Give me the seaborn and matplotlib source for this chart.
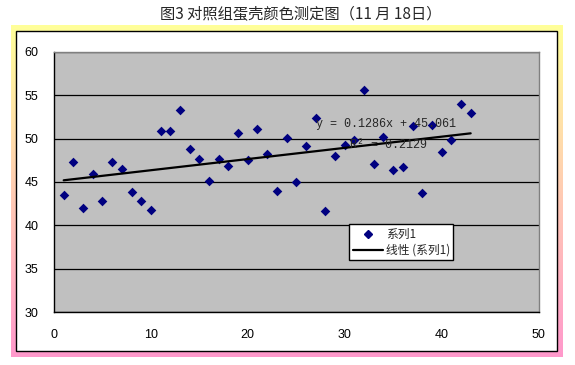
import numpy as np
import pandas as pd
import matplotlib
matplotlib.use("Agg")
import matplotlib.pyplot as plt
from matplotlib.patches import Rectangle
from matplotlib.lines import Line2D
import seaborn as sns

# data
egg_no = list(range(1, 44))
shell_color = [43.5, 47.3, 42.0, 45.9, 42.8, 47.3, 46.5, 43.9, 42.8, 41.8,
               50.9, 50.9, 53.3, 48.8, 47.7, 45.1, 47.7, 46.8, 50.6, 47.5,
               51.1, 48.2, 44.0, 50.1, 45.0, 49.1, 52.4, 41.7, 48.0, 49.3,
               49.8, 55.6, 47.1, 50.2, 46.4, 46.7, 51.4, 43.7, 51.6, 48.4,
               49.8, 54.0, 53.0]
x_ticks = [0, 10, 20, 30, 40, 50]
y_ticks = [30, 35, 40, 45, 50, 55, 60]
title = "图3 对照组蛋壳颜色测定图（11 月 18日）"
eq_text = "y = 0.1286x + 45.061"
r2_text = "R² = 0.2129"

df = pd.DataFrame({"x": egg_no, "y": shell_color})

sns.set_theme(style="white")
plt.rcParams["font.family"] = ["Liberation Sans", "Noto Sans CJK SC", "DejaVu Sans"]

W, H = 575, 365
fig = plt.figure(figsize=(W / 100, H / 100), dpi=100)

# background frame: gradient border + white inner box
bg = fig.add_axes([0, 0, 1, 1], zorder=-5)
bg.axis("off")
top_c = np.array([1.0, 1.0, 0.6])
bot_c = np.array([1.0, 0.6, 0.8])
t = np.linspace(0, 1, 200)[:, None]
grad = (top_c[None, :] * (1 - t) + bot_c[None, :] * t)[:, None, :]
bg.imshow(grad, extent=(11, 563, 357, 25), aspect="auto", interpolation="bilinear")
bg.add_patch(Rectangle((16, 31), 541, 320, facecolor="white", edgecolor="black", lw=1))
bg.set_xlim(0, W)
bg.set_ylim(H, 0)

fig.text(0.523, 0.962, title, ha="center", va="center", fontsize=11,
         family=["Noto Sans CJK SC", "DejaVu Sans"])

ax = fig.add_axes([54 / W, 1 - 312.3 / H, 484.5 / W, 260.6 / H])
ax.set_facecolor("#C0C0C0")

sns.scatterplot(data=df, x="x", y="y", ax=ax, marker="D", s=24, color="#000080",
                edgecolor="#000080", linewidth=0, zorder=3)
sns.regplot(data=df, x="x", y="y", ax=ax, scatter=False, ci=None,
            line_kws={"color": "black", "lw": 1.6, "zorder": 4})

ax.set_xlim(0, 50)
ax.set_ylim(30, 60)
ax.set_xticks(x_ticks)
ax.set_yticks(y_ticks)
ax.set_xlabel("")
ax.set_ylabel("")
ax.grid(axis="y", color="black", lw=0.9)
ax.grid(axis="x", visible=False)
ax.set_axisbelow(True)
for side in ["top", "right"]:
    ax.spines[side].set_color("#808080")
for side in ["left", "bottom"]:
    ax.spines[side].set_color("black")
for sp in ax.spines.values():
    sp.set_linewidth(1)
ax.tick_params(axis="both", which="major", direction="out", length=3, width=1,
               color="black", labelsize=9, labelcolor="black")
ax.tick_params(axis="y", pad=8)
ax.tick_params(axis="x", pad=9)

ax.text(27.0, 51.7, eq_text, fontsize=8.5, family="Liberation Mono", va="center", zorder=5)
ax.text(30.5, 49.3, r2_text, fontsize=8.5, family="Liberation Mono", va="center", zorder=5)

handles = [Line2D([], [], marker="D", ls="none", color="#000080", markersize=4),
           Line2D([], [], color="black", lw=1.6)]
leg = ax.legend(handles, ["系列1", "线性 (系列1)"], loc="upper left",
                bbox_to_anchor=(0.609, 0.338), borderaxespad=0, fancybox=False,
                framealpha=1, edgecolor="black", handlelength=2.6,
                handletextpad=0.2, borderpad=0.3, labelspacing=0.25,
                prop={"family": ["Noto Sans CJK SC", "DejaVu Sans"], "size": 8.5})
leg.get_frame().set_linewidth(1)
leg.set_zorder(10)

fig.savefig("out.png", dpi=100)
